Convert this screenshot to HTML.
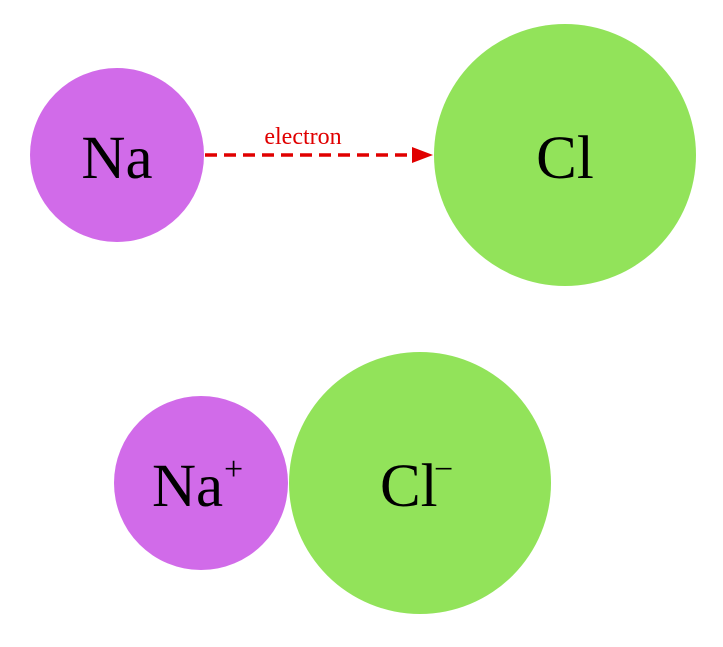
<!DOCTYPE html>
<html><head><meta charset="utf-8"><style>
html,body{margin:0;padding:0;background:#fff;width:723px;height:647px;overflow:hidden}
</style></head><body>
<svg width="723" height="647" viewBox="0 0 723 647" xmlns="http://www.w3.org/2000/svg" font-family="Liberation Serif, serif">
<circle cx="117" cy="155" r="87" fill="#d16be9"/>
<circle cx="565" cy="155" r="131" fill="#92e35a"/>
<circle cx="201" cy="483" r="87" fill="#d16be9"/>
<circle cx="420" cy="483" r="131" fill="#92e35a"/>
<line x1="205" y1="155" x2="414" y2="155" stroke="#e00000" stroke-width="3.5" stroke-dasharray="12,7"/>
<polygon points="433,155 412,147 412,163" fill="#e00000"/>
<text x="303" y="144" font-size="24" fill="#e00000" text-anchor="middle">electron</text>
<text x="117" y="178" font-size="61" text-anchor="middle">Na</text>
<text x="565" y="178" font-size="61" text-anchor="middle">Cl</text>
<text x="152" y="506" font-size="61">Na</text>
<text x="224" y="480" font-size="34">+</text>
<text x="380" y="506" font-size="61">Cl</text>
<text x="434" y="480" font-size="34">−</text>
</svg>
</body></html>
